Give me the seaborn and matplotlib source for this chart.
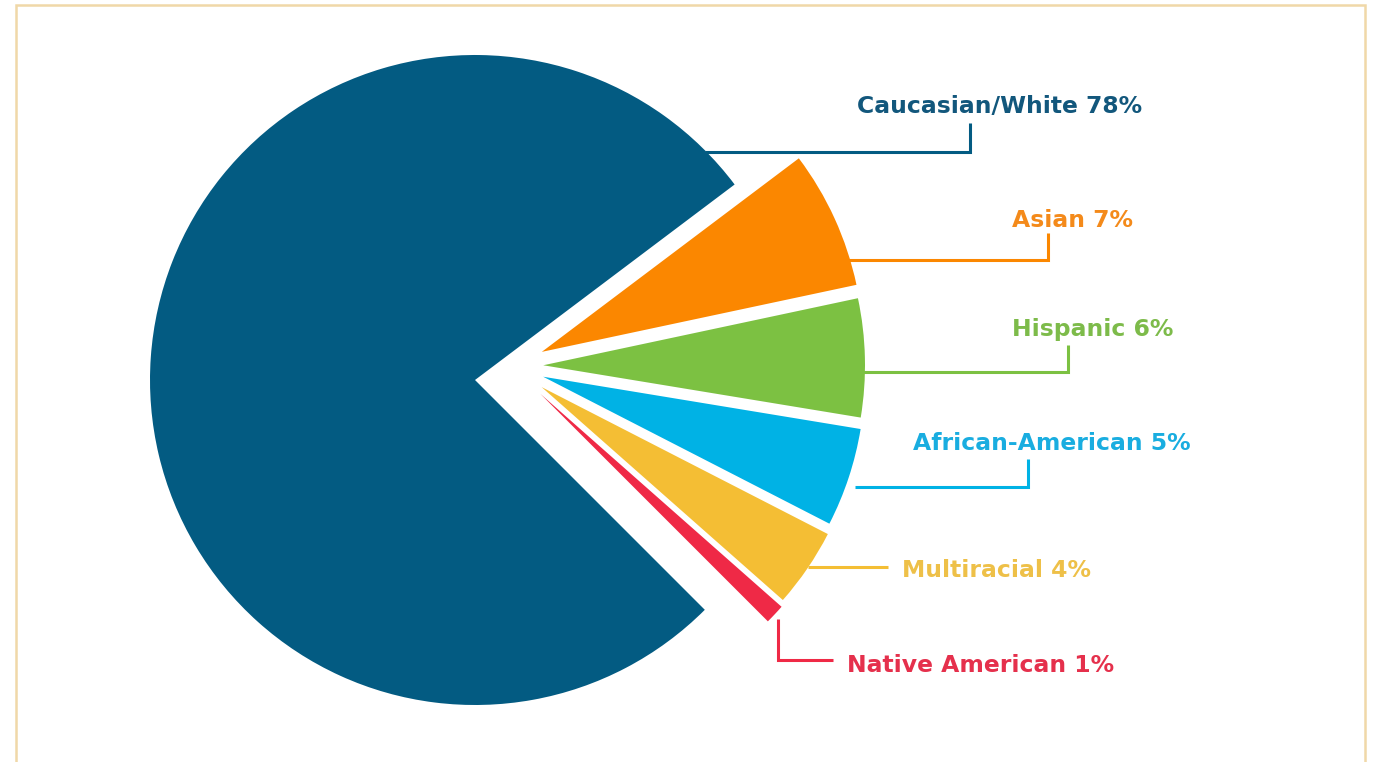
import matplotlib
matplotlib.use("Agg")
import matplotlib.pyplot as plt
import matplotlib.patches as mpatches
import seaborn as sns

# ---- data ----
categories = ["Caucasian/White", "Asian", "Hispanic", "African-American", "Multiracial", "Native American"]
values = [78, 7, 6, 5, 4, 1]
labels = ["Caucasian/White 78%", "Asian 7%", "Hispanic 6%", "African-American 5%", "Multiracial 4%", "Native American 1%"]
slice_colors = ["#035b82", "#fb8700", "#7cc142", "#00b2e5", "#f4be34", "#ef2946"]
text_colors = ["#12577c", "#f48a1a", "#7dbb4a", "#19ade0", "#eec048", "#e5304c"]

sns.set_theme(style="white")
plt.rcParams["font.family"] = ["DejaVu Sans"]

W, H = 1379, 762
fig = plt.figure(figsize=(W / 100, H / 100), dpi=100)
fig.patch.set_facecolor("white")
ax = fig.add_axes([0, 0, 1, 1])
ax.set_axis_off()

# pixel layout helpers (pie centre at pixel (475, 380), radius 325 px)
CX, CY, R = 475, 380, 325
def px(x, y):
    return (x - CX) / R, (CY - y) / R

# main slice
w1, _ = ax.pie(values, colors=slice_colors, startangle=-45, counterclock=False,
               radius=1.0, center=(0, 0), normalize=True,
               wedgeprops=dict(linewidth=0))
for w in w1[1:]:
    w.set_visible(False)

# exploded small slices
explode = [0, 0.105, 0.1, 0.105, 0.115, 0.125]
w2, _ = ax.pie(values, colors=slice_colors, startangle=-45, counterclock=False,
               radius=0.99, center=(0.11, 0.043), explode=explode, normalize=True,
               wedgeprops=dict(linewidth=0))
w2[0].set_visible(False)
ax.set_xlim(px(0, 0)[0], px(W, 0)[0])
ax.set_ylim(px(0, H)[1], px(0, 0)[1])
ax.set_aspect("equal")

# label layout (pixel positions): text left x, baseline y, leader polyline
text_pos = [(857, 113), (1012, 227), (1012, 336), (913, 450), (902, 577), (847, 672)]
leaders = [
    [(705, 152), (970, 152), (970, 123)],
    [(848, 260), (1048, 260), (1048, 233)],
    [(862, 372), (1068, 372), (1068, 345)],
    [(855, 487), (1028, 487), (1028, 459)],
    [(808, 567), (888, 567)],
    [(778, 619), (778, 660), (833, 660)],
]

for lab, tc, sc, (tx, ty), pts in zip(labels, text_colors, slice_colors, text_pos, leaders):
    xs, ys = zip(*[px(a, b) for a, b in pts])
    ax.plot(xs, ys, color=sc, lw=2.2, solid_capstyle="butt", solid_joinstyle="miter")
    x, y = px(tx, ty)
    ax.text(x, y, lab, color=tc, fontsize=16.9, fontweight="bold", ha="left", va="baseline")

# frame border
border = mpatches.Rectangle((16 / W, -0.05), (1365 - 16) / W, (H - 5) / H + 0.05,
                            transform=fig.transFigure, fill=False,
                            edgecolor="#f0d8a8", linewidth=1.8)
fig.patches.append(border)

fig.savefig("out.png", dpi=100)
